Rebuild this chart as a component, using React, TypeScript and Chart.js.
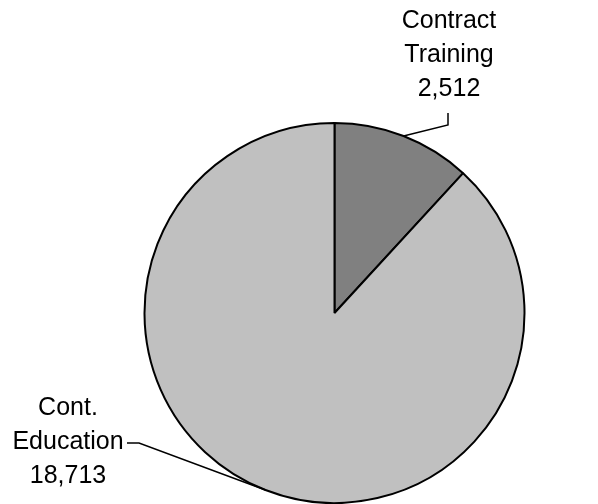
import React, { useEffect, useRef } from "react";
import { Chart, registerables } from "chart.js";

Chart.register(...registerables);

const categories = ["Contract Training", "Cont. Education"];
const labelLines = [["Contract", "Training"], ["Cont.", "Education"]];
const values = [2512, 18713];
const colors = ["#808080", "#c0c0c0"];

const fmt = (v: number) => v.toLocaleString("en-US");

const labelPlugin = {
  id: "pieLabels",
  afterDraw(chart: any) {
    const ctx = chart.ctx;
    const meta = chart.getDatasetMeta(0);
    ctx.save();
    ctx.font = "25px 'Liberation Sans', Arial, sans-serif";
    ctx.fillStyle = "#000";
    ctx.strokeStyle = "#000";
    ctx.lineWidth = 1.5;
    ctx.textAlign = "center";
    ctx.textBaseline = "middle";
    const lineH = 34;
    meta.data.forEach((arc: any, i: number) => {
      const mid = (arc.startAngle + arc.endAngle) / 2;
      const ex = arc.x + Math.cos(mid) * arc.outerRadius;
      const ey = arc.y + Math.sin(mid) * arc.outerRadius;
      const lines = [...labelLines[i], fmt(values[i])];
      if (i === 0) {
        const cx = 449;
        const top = 21;
        lines.forEach((t, k) => ctx.fillText(t, cx, top + k * lineH));
        ctx.beginPath();
        ctx.moveTo(448, 113);
        ctx.lineTo(448, 125);
        ctx.lineTo(ex, ey);
        ctx.stroke();
      } else {
        const cx = 68;
        const top = 408;
        lines.forEach((t, k) => ctx.fillText(t, cx, top + k * lineH));
        ctx.beginPath();
        ctx.moveTo(127, 443);
        ctx.lineTo(139, 443);
        ctx.lineTo(ex, ey);
        ctx.stroke();
      }
    });
    ctx.restore();
  },
};

export default function App() {
  const ref = useRef<HTMLCanvasElement>(null);
  useEffect(() => {
    document.body.style.margin = "0";
    const chart = new Chart(ref.current!, {
      type: "pie",
      data: {
        labels: categories,
        datasets: [
          {
            data: values,
            backgroundColor: colors,
            borderColor: "#000",
            borderWidth: 2,
          },
        ],
      },
      options: {
        animation: false,
        responsive: false,
        maintainAspectRatio: false,
        layout: { padding: { left: 143.5, right: 72.5, top: 122, bottom: 0 } },
        plugins: {
          legend: { display: false },
          tooltip: { enabled: false },
          title: { display: false },
        },
      },
      plugins: [labelPlugin],
    });
    return () => chart.destroy();
  }, []);
  return (
    <div style={{ width: 598, height: 504, background: "#fff" }}>
      <canvas ref={ref} width={598} height={504} style={{ display: "block" }} />
    </div>
  );
}
